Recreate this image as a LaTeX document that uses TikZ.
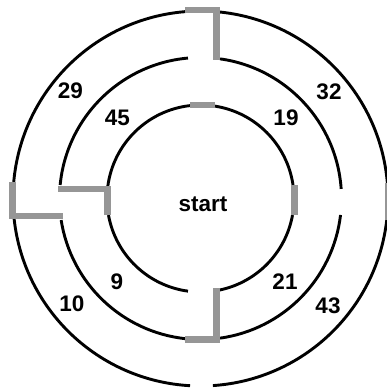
\documentclass[tikz,border=0pt]{standalone}
\usepackage{fontspec}
\setmainfont{Liberation Sans}
\definecolor{wall}{RGB}{150,150,150}
\begin{document}
\begin{tikzpicture}[x=1pt,y=-1pt,
  ring/.style={line width=2.9pt, black},
  wallline/.style={line width=6.5pt, wall, line join=miter, line cap=butt},
  lbl/.style={font=\fontsize{22.5}{24}\selectfont\bfseries, inner sep=0pt}]
\useasboundingbox (0,0) rectangle (387,388);
\coordinate (C) at (200.5,198.5);
% outer ring
\draw[ring] ([shift={(C)}]6.6:187.5) arc[start angle=6.6, end angle=86.2, radius=187.5];
\draw[ring] ([shift={(C)}]93.2:187.5) arc[start angle=93.2, end angle=173.7, radius=187.5];
\draw[ring] ([shift={(C)}]185.0:187.5) arc[start angle=185.0, end angle=265.3, radius=187.5];
\draw[ring] ([shift={(C)}]275.4:187.5) arc[start angle=275.4, end angle=355.3, radius=187.5];
% middle ring
\draw[ring] ([shift={(C)}]6.7:141) arc[start angle=6.7, end angle=82.0, radius=141];
\draw[ring] ([shift={(C)}]96.3:141) arc[start angle=96.3, end angle=171.2, radius=141];
\draw[ring] ([shift={(C)}]185.5:141) arc[start angle=185.5, end angle=264.9, radius=141];
\draw[ring] ([shift={(C)}]278.0:141) arc[start angle=278.0, end angle=356.1, radius=141];
% inner ring
\draw[ring] ([shift={(C)}]10.2:93.5) arc[start angle=10.2, end angle=78.0, radius=93.5];
\draw[ring] ([shift={(C)}]97.7:93.5) arc[start angle=97.7, end angle=169.8, radius=93.5];
\draw[ring] ([shift={(C)}]187.7:93.5) arc[start angle=187.7, end angle=263.5, radius=93.5];
\draw[ring] ([shift={(C)}]278.9:93.5) arc[start angle=278.9, end angle=351.7, radius=93.5];
% grey walls and doors
\draw[wallline] (185,10) -- (216.5,10) -- (216.5,60);
\draw[wallline] (190,105) -- (215,105);
\draw[wallline] (294.5,185) -- (294.5,215);
\draw[wallline] (388,183) -- (388,220);
\draw[wallline] (12.5,182) -- (12.5,216) -- (63,216);
\draw[wallline] (58,189) -- (107.5,189) -- (107.5,215);
\draw[wallline] (216.5,288) -- (216.5,339.5) -- (185,339.5);
% labels
\node[lbl] (start) at (203,204.5) {start};
\node[lbl] (n29) at (70.5,90.5) {29};
\node[lbl] (n45) at (117.5,117.5) {45};
\node[lbl] (n19) at (286,118) {19};
\node[lbl] (n32) at (329,91.5) {32};
\node[lbl] (n9) at (117,282) {9};
\node[lbl] (n10) at (72,304) {10};
\node[lbl] (n21) at (285,282) {21};
\node[lbl] (n43) at (328,306) {43};
\end{tikzpicture}
\end{document}
